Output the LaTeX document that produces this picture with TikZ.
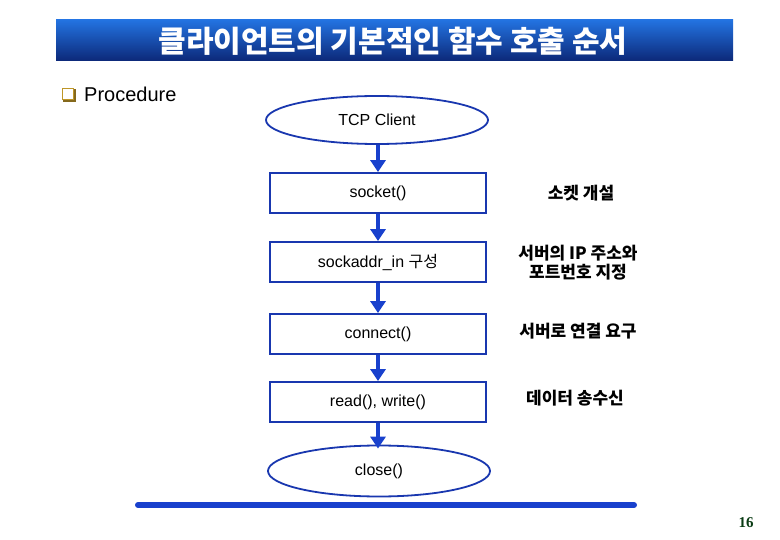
\documentclass[tikz,border=0pt]{standalone}
\usepackage{fontspec}
\setmainfont{Liberation Sans}
\newfontfamily\kr{Noto Sans CJK KR}
\newfontfamily\pagefont{Liberation Serif}
\usetikzlibrary{shapes.geometric,arrows.meta}
\definecolor{lineblue}{RGB}{25,55,175}
\definecolor{arrowblue}{RGB}{25,65,205}
\definecolor{bargold}{RGB}{190,150,40}
\definecolor{pagegreen}{RGB}{10,60,20}
\begin{document}
\begin{tikzpicture}[x=1pt,y=-1pt]
\tikzset{
  every node/.append style={inner sep=0pt},
  stepbox/.style={draw=lineblue,line width=1.8pt,rectangle,minimum width=216pt,minimum height=40pt,font=\fontsize{16}{19}\selectfont},
  endnode/.style={draw=lineblue,line width=1.8pt,ellipse,minimum width=222pt,minimum height=48pt,font=\fontsize{16}{19}\selectfont},
  note/.style={align=center,font=\kr\bfseries\fontsize{17}{19}\selectfont},
  flow/.style={arrowblue,line width=3.4pt,-{Triangle[width=15pt,length=12pt]}}
}
\useasboundingbox (0,0) rectangle (780,540);
% title bar
\shade [top color={rgb,255:red,35;green,115;blue,225},bottom color={rgb,255:red,12;green,40;blue,120}] (56,20) rectangle (733,61);
\node [text=white,font=\kr\bfseries\fontsize{30}{32}\selectfont] (title) at (393,41) {클라이언트의 기본적인 함수 호출 순서};
% bullet
\node [draw=bargold,line width=1.2pt,fill=white,minimum size=11pt] (bullet) at (68,94) {};
\draw [bargold!70!black,line width=1.4pt] (bullet.south west) ++(1,1) -- ++(12,0) -- ++(0,-12);
\node [anchor=west,font=\fontsize{20}{22}\selectfont] (proc) at (84,94) {Procedure};
% flow
\node [endnode] (tcp) at (377,120) {TCP Client};
\node [stepbox] (sock) at (378,193) {socket()};
\node [stepbox] (addr) at (378,262) {sockaddr\_in {\kr 구성}};
\node [stepbox] (conn) at (378,334) {connect()};
\node [stepbox] (rw) at (378,402) {read(), write()};
\node [endnode,minimum height=51pt] (close) at (379,471) {close()};
\draw [flow] (tcp.south -| sock.north) -- (sock.north);
\draw [flow] (sock) -- (addr);
\draw [flow] (addr) -- (conn);
\draw [flow] (conn) -- (rw);
\draw [flow] (rw.south) -- ([yshift=-4pt]close.north -| rw.south);
% notes
\node [note] (n1) at (581,193) {소켓 개설};
\node [note] (n2) at (578,263) {서버의 IP 주소와\\포트번호 지정};
\node [note] (n3) at (578,331) {서버로 연결 요구};
\node [note] (n4) at (575,398) {데이터 송수신};
% bottom bar
\draw [arrowblue,line width=6pt,line cap=round] (138,505) -- (634,505);
\node [text=pagegreen,font=\pagefont\bfseries\fontsize{15}{18}\selectfont] (page) at (746,523) {16};
\end{tikzpicture}
\end{document}
